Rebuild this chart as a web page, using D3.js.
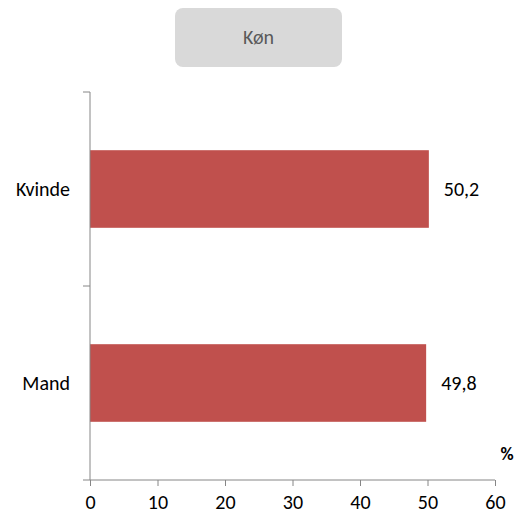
<!DOCTYPE html>
<html>
<head>
<meta charset="utf-8">
<script src="https://cdn.jsdelivr.net/npm/d3@7"></script>
<style>
  body { margin: 0; background: #fff; }
  text { font-family: Carlito, "Noto Sans", "Liberation Sans", sans-serif; }
</style>
</head>
<body>
<div id="chart"></div>
<script>
// categories and values (percent)
var categories = ["Kvinde", "Mand"];
var values = [50.2, 49.8];
var valueLabels = ["50,2", "49,8"];
var xTicks = [0, 10, 20, 30, 40, 50, 60];
var title = "Køn";
var unit = "%";

var width = 517, height = 518;
var plot = { left: 90, right: 495, top: 92, bottom: 480 };

var svg = d3.select("#chart").append("svg")
  .attr("width", width)
  .attr("height", height);

// title box
svg.append("rect")
  .attr("x", 175).attr("y", 8)
  .attr("width", 167).attr("height", 59)
  .attr("rx", 8).attr("ry", 8)
  .attr("fill", "#d9d9d9");
svg.append("text")
  .attr("x", 258.5).attr("y", 44)
  .attr("text-anchor", "middle")
  .attr("font-size", 20)
  .attr("fill", "#595959")
  .text(title);

var xScale = d3.scaleLinear().domain([0, 60]).range([plot.left, plot.right]);
var yScale = d3.scaleBand().domain(categories).range([plot.top, plot.bottom])
  .paddingInner(0.6).paddingOuter(0.3);

// bars
svg.selectAll("rect.bar")
  .data(categories)
  .enter()
  .append("rect")
  .attr("class", "bar")
  .attr("x", xScale(0))
  .attr("y", function(d) { return yScale(d); })
  .attr("width", function(d, i) { return xScale(values[i]) - xScale(0); })
  .attr("height", yScale.bandwidth())
  .attr("fill", "#c0504d");

// value labels
svg.selectAll("text.val")
  .data(categories)
  .enter()
  .append("text")
  .attr("class", "val")
  .attr("x", function(d, i) { return xScale(values[i]) + 15; })
  .attr("y", function(d) { return yScale(d) + yScale.bandwidth() / 2; })
  .attr("dy", "0.35em")
  .attr("font-size", 20)
  .attr("fill", "#000")
  .text(function(d, i) { return valueLabels[i]; });

// x axis
var xAxis = svg.append("g")
  .attr("transform", "translate(0," + plot.bottom + ")")
  .call(d3.axisBottom(xScale).tickValues(xTicks).tickSize(6).tickSizeOuter(0).tickPadding(9));
xAxis.select(".domain").attr("stroke", "#868686").attr("d", "M" + (plot.left - 7) + ",0H" + plot.right);
xAxis.selectAll(".tick line").attr("stroke", "#868686");
xAxis.selectAll(".tick text")
  .attr("font-size", 20)
  .attr("fill", "#000")
  .style("font-family", "Carlito, 'Noto Sans', 'Liberation Sans', sans-serif");

// y axis: line with tick marks at band boundaries
var yAxis = svg.append("g");
yAxis.append("line")
  .attr("x1", plot.left).attr("x2", plot.left)
  .attr("y1", plot.top).attr("y2", plot.bottom)
  .attr("stroke", "#868686");
var step = yScale.step();
var boundaries = [plot.top].concat(categories.map(function(d) { return yScale(d) + yScale.bandwidth() / 2 + step / 2; }));
yAxis.selectAll("line.tk")
  .data(boundaries.slice(0, boundaries.length - 1))
  .enter()
  .append("line")
  .attr("class", "tk")
  .attr("x1", plot.left - 7).attr("x2", plot.left)
  .attr("y1", function(d) { return d; })
  .attr("y2", function(d) { return d; })
  .attr("stroke", "#868686");

// category labels
svg.selectAll("text.cat")
  .data(categories)
  .enter()
  .append("text")
  .attr("class", "cat")
  .attr("x", plot.left - 20)
  .attr("y", function(d) { return yScale(d) + yScale.bandwidth() / 2; })
  .attr("dy", "0.35em")
  .attr("text-anchor", "end")
  .attr("font-size", 20)
  .attr("fill", "#000")
  .text(function(d) { return d; });

// unit label
svg.append("text")
  .attr("x", 507).attr("y", 460)
  .attr("text-anchor", "middle")
  .attr("font-size", 18)
  .attr("font-weight", "bold")
  .text(unit);
</script>
</body>
</html>
